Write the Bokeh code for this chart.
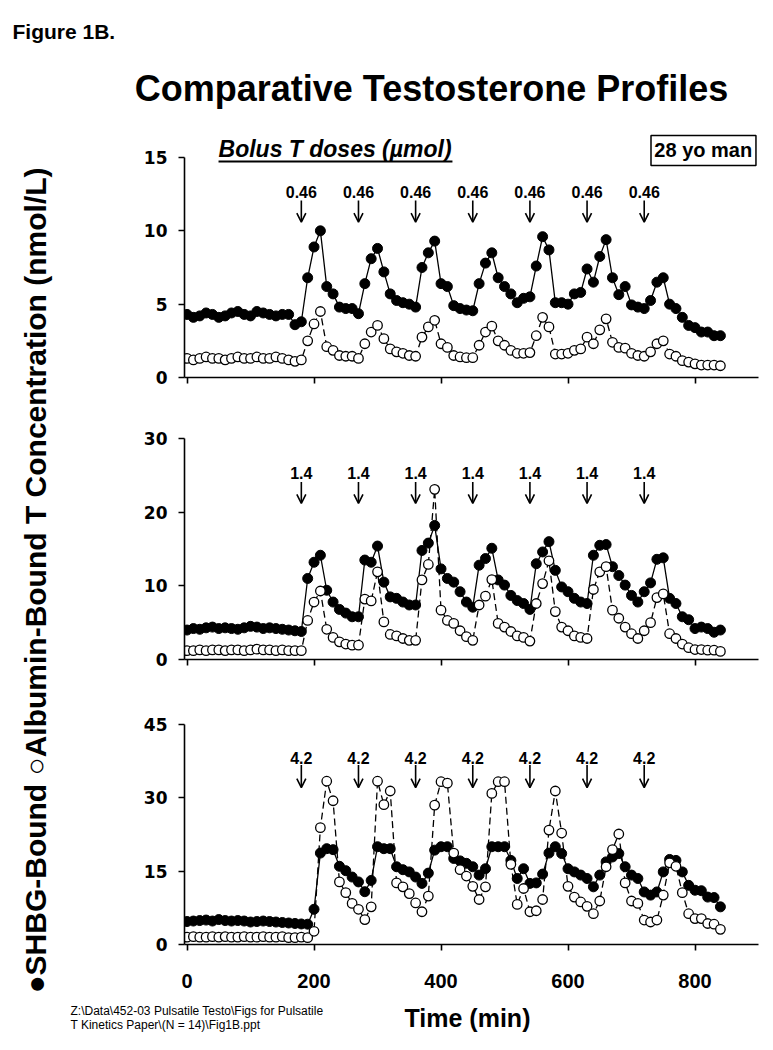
from bokeh.plotting import figure
from bokeh.models import Range1d, FixedTicker, Arrow, OpenHead, ColumnDataSource
from bokeh.layouts import column, row
from bokeh.embed import file_html
from bokeh.resources import INLINE
from bokeh.core.properties import value

# ---------------- data ----------------
time_min = list(range(0, 850, 10))
dose_times = [180, 270, 360, 450, 540, 630, 720]

# panel 1: 0.46 umol boluses
shbg_046 = [4.3, 4.1, 4.2, 4.4, 4.3, 4.1, 4.2, 4.4, 4.5, 4.3, 4.2, 4.5, 4.4, 4.3, 4.2, 4.3, 4.3, 3.6, 3.8,
            6.8, 8.9, 10.0, 6.2, 5.7, 4.8, 4.7, 4.7, 4.35,
            6.4, 8.1, 8.8, 7.2, 5.7, 5.25, 5.1, 5.0, 4.8,
            7.5, 8.5, 9.3, 6.4, 6.2, 4.9, 4.7, 4.6, 4.55,
            6.4, 7.8, 8.5, 6.8, 6.2, 5.7, 5.1, 5.4, 5.5,
            7.6, 9.6, 8.7, 5.1, 5.1, 5.0, 5.7, 5.8,
            7.4, 6.5, 8.25, 9.4, 6.8, 5.65, 6.2, 4.95, 4.8, 4.7,
            5.25, 6.5, 6.8, 5.0, 4.7, 4.1, 3.55, 3.4, 3.1, 3.1, 2.85, 2.85]
alb_046 = [1.3, 1.2, 1.3, 1.4, 1.3, 1.3, 1.2, 1.3, 1.4, 1.3, 1.3, 1.4, 1.3, 1.3, 1.4, 1.3, 1.2, 1.1, 1.2,
           2.5, 3.65, 4.5, 2.1, 1.85, 1.5, 1.45, 1.45, 1.3,
           2.3, 3.1, 3.55, 2.65, 1.95, 1.75, 1.65, 1.5, 1.45,
           2.75, 3.45, 3.9, 2.3, 2.05, 1.5, 1.4, 1.35, 1.35,
           2.2, 3.1, 3.5, 2.5, 2.2, 1.85, 1.65, 1.65, 1.7,
           2.85, 4.1, 3.45, 1.6, 1.6, 1.65, 1.85, 1.95,
           2.75, 2.3, 3.25, 4.0, 2.4, 2.05, 2.0, 1.65, 1.5, 1.45,
           1.75, 2.3, 2.5, 1.6, 1.45, 1.15, 1.05, 0.93, 0.85, 0.85, 0.85, 0.8]

# panel 2: 1.4 umol boluses
shbg_14 = [4.0, 4.2, 4.1, 4.3, 4.4, 4.2, 4.3, 4.2, 4.1, 4.3, 4.5, 4.4, 4.2, 4.3, 4.2, 4.1, 4.0, 3.9, 3.8,
           11.0, 13.2, 14.15, 9.4, 7.8, 6.8, 6.3, 5.8, 5.8,
           13.5, 13.2, 15.4, 10.5, 8.5, 8.3, 7.8, 7.4, 7.4,
           14.8, 15.8, 18.2, 12.3, 11.0, 10.5, 9.2, 7.8, 7.1,
           12.8, 13.7, 15.1, 10.8, 10.1, 8.7, 8.0, 7.6, 6.8,
           13.0, 14.6, 16.0, 12.1, 9.85, 9.2, 8.3, 7.8, 7.6,
           14.15, 15.5, 15.6, 12.6, 11.4, 10.1, 8.7, 7.8,
           9.2, 10.4, 13.6, 13.8, 8.3, 7.6, 5.8, 5.4, 4.2, 4.4, 4.2, 3.7, 4.0]
alb_14 = [1.2, 1.2, 1.3, 1.2, 1.3, 1.3, 1.2, 1.3, 1.3, 1.2, 1.3, 1.4, 1.3, 1.3, 1.2, 1.3, 1.2, 1.2, 1.2,
          5.3, 7.8, 9.3, 4.1, 3.0, 2.4, 2.1, 1.95, 1.95,
          8.2, 7.95, 11.9, 5.1, 3.4, 3.2, 2.85, 2.6, 2.6,
          10.8, 12.9, 23.1, 6.7, 5.3, 4.9, 3.9, 3.1, 2.6,
          7.4, 8.6, 10.85, 4.9, 4.4, 3.8, 3.2, 3.0, 2.5,
          7.6, 10.3, 13.4, 6.5, 4.4, 3.9, 3.2, 3.0, 2.85,
          9.5, 11.9, 12.6, 6.7, 5.6, 4.4, 3.5, 2.85,
          3.9, 5.0, 8.4, 8.9, 3.5, 2.85, 2.1, 1.6, 1.35, 1.35, 1.26, 1.26, 1.1]

# panel 3: 4.2 umol boluses
shbg_42 = [4.7, 4.8, 4.9, 5.0, 4.8, 5.1, 4.9, 4.8, 4.9, 4.8, 4.6, 4.7, 4.8, 4.7, 4.6, 4.5, 4.4, 4.3, 4.2, 4.15,
           7.2, 18.7, 19.6, 19.4, 16.0, 15.1, 13.8, 12.8, 10.8,
           13.1, 20.0, 19.6, 19.6, 15.9, 15.3, 14.85, 13.8, 12.5,
           14.6, 19.3, 20.0, 20.0, 17.6, 17.1, 16.6, 15.9, 14.2,
           15.5, 20.0, 20.0, 20.0, 17.2, 13.5, 15.5, 12.5, 12.6,
           14.4, 18.7, 20.0, 18.6, 15.5, 14.85, 14.2, 13.5, 11.8,
           14.2, 16.9, 17.9, 18.6, 15.9, 14.2, 13.5, 10.75, 10.1,
           10.75, 14.85, 17.4, 17.2, 14.85, 12.1, 11.1, 11.0, 9.7, 9.6, 7.7]
alb_42 = [1.5, 1.6, 1.5, 1.5, 1.6, 1.5, 1.6, 1.5, 1.5, 1.6, 1.5, 1.5, 1.6, 1.5, 1.5, 1.6, 1.4, 1.4, 1.5, 1.4,
          2.7, 23.9, 33.4, 29.4, 12.8, 10.6, 8.4, 7.2, 5.1,
          7.7, 33.4, 28.6, 31.4, 12.6, 11.8, 10.4, 8.5, 6.7,
          9.9, 28.5, 33.3, 33.0, 18.7, 15.3, 14.0, 11.9, 9.2,
          11.8, 30.9, 33.3, 33.3, 16.4, 8.2, 11.45, 6.7, 6.9,
          9.2, 23.4, 31.4, 22.8, 11.9, 9.7, 8.7, 7.8, 6.3,
          8.9, 15.9, 19.4, 22.6, 12.6, 8.9, 8.4, 5.0, 4.6,
          5.0, 10.1, 16.7, 16.0, 10.6, 6.3, 5.3, 5.3, 4.3, 4.15, 3.1]

for arr in (shbg_046, alb_046, shbg_14, alb_14, shbg_42, alb_42):
    assert len(arr) == len(time_min), len(arr)

x_ticks = [0, 200, 400, 600, 800]
y_ticks_1 = [0, 5, 10, 15]
y_ticks_2 = [0, 10, 20, 30]
y_ticks_3 = [0, 15, 30, 45]
dose_1 = "0.46"
dose_2 = "1.4"
dose_3 = "4.2"

# ---------------- layout constants ----------------
FONT = "Liberation Sans"
PANEL_W = 705
LEFT_B = 124
RIGHT_B = 7
X0, X1 = -4, 900


def blank(w, h, xr, yr):
    f = figure(width=w, height=h, x_range=xr, y_range=yr, output_backend="svg",
               toolbar_location=None, x_axis_type=None, y_axis_type=None,
               min_border=0, min_border_left=0, min_border_right=0,
               min_border_top=0, min_border_bottom=0)
    f.outline_line_color = None
    f.xgrid.visible = False
    f.ygrid.visible = False
    return f


def panel(frame_h, bottom_b, ytop, yaxis_max, yticks, shbg, alb, dose_lbl,
          lbl_y, arr_top, arr_tip, show_labels):
    p = figure(width=PANEL_W, height=frame_h + bottom_b,
               x_range=Range1d(X0, X1), y_range=Range1d(0, ytop),
               output_backend="svg", toolbar_location=None,
               min_border_left=LEFT_B, min_border_right=RIGHT_B,
               min_border_top=0, min_border_bottom=bottom_b)
    p.outline_line_color = None
    p.xgrid.visible = False
    p.ygrid.visible = False

    # y axis
    ya = p.yaxis[0]
    ya.bounds = (0, yaxis_max)
    ya.ticker = FixedTicker(ticks=yticks)
    ya.axis_line_width = 1.6
    ya.major_tick_line_width = 1.6
    ya.major_tick_out = 6
    ya.major_tick_in = 0
    ya.minor_tick_out = 0
    ya.minor_tick_in = 0
    ya.major_label_text_font = "DejaVu Sans"
    ya.major_label_text_font_style = "bold"
    ya.major_label_text_font_size = "17px"
    ya.major_label_standoff = 11
    ya.major_label_text_color = "black"

    # x axis
    xa = p.xaxis[0]
    xa.bounds = (X0, X1)
    xa.axis_line_width = 1.6
    xa.major_tick_line_width = 1.6
    xa.minor_tick_line_width = 1.6
    xa.major_tick_in = 0
    xa.minor_tick_in = 0
    if show_labels:
        xa.ticker = FixedTicker(ticks=x_ticks)
        xa.major_tick_out = 6
        xa.minor_tick_out = 0
        xa.major_label_text_font = FONT
        xa.major_label_text_font_style = "bold"
        xa.major_label_text_font_size = "20px"
        xa.major_label_standoff = 23
        xa.major_label_text_color = "black"
    else:
        # unlabeled tick marks only
        xa.ticker = FixedTicker(ticks=[], minor_ticks=x_ticks)
        xa.major_tick_out = 0
        xa.minor_tick_out = 6
        xa.major_label_standoff = 0

    # series
    p.line(time_min, alb, line_color="black", line_width=1.3, line_dash="7 4")
    p.line(time_min, shbg, line_color="black", line_width=1.3)
    p.scatter(time_min, shbg, size=10, fill_color="black", line_color="black")
    p.scatter(time_min, alb, size=9.5, fill_color="white", line_color="black",
              line_width=1.3)

    # dose arrows and labels
    src = ColumnDataSource(dict(x=dose_times, y0=[arr_top] * len(dose_times),
                                y1=[arr_tip] * len(dose_times)))
    p.add_layout(Arrow(source=src, x_start="x", y_start="y0", x_end="x", y_end="y1",
                       line_width=1.6, line_color="black",
                       end=OpenHead(size=9, line_width=1.6, line_color="black")))
    p.text(dose_times, [lbl_y] * len(dose_times), text=[dose_lbl] * len(dose_times),
           text_font=value(FONT), text_font_style="bold", text_font_size="16px",
           text_align="center", text_baseline="middle", text_color="black")
    return p


# panel 1: frame 257 px tall, 14.667 px per unit
p1 = panel(257, 10, 257 / 14.667, 15, y_ticks_1, shbg_046, alb_046, dose_1,
           12.68, 12.07, 10.6, False)
# panel 2: frame 272 px tall, 7.367 px per unit
p2 = panel(272, 10, 272 / 7.367, 30, y_ticks_2, shbg_14, alb_14, dose_2,
           25.36, 24.1, 21.2, False)
# panel 3: frame 275 px tall, 4.889 px per unit
p3 = panel(275, 58, 275 / 4.889, 45, y_ticks_3, shbg_42, alb_42, dose_3,
           38.2, 36.7, 32.1, True)

# annotations in panel 1
p1.text([49.6], [15.61], text=["Bolus T doses (\u00b5mol)"], text_font=value(FONT),
        text_font_style="bold italic", text_font_size="23px", text_align="left",
        text_baseline="middle", text_color="black")
p1.segment(x0=[49.6], y0=[14.73], x1=[418], y1=[14.73], line_color="black", line_width=2)
p1.quad(left=[730.7], right=[896], bottom=[14.45], top=[16.5], fill_color="white",
        line_color="black", line_width=1.5)
p1.text([813], [15.48], text=["28 yo man"], text_font=value(FONT), text_font_style="bold",
        text_font_size="20px", text_align="center", text_baseline="middle",
        text_color="black")

# header (page y 0..120)
hdr = blank(765, 120, Range1d(0, 765), Range1d(120, 0))
hdr.text([12], [31], text=["Figure 1B."], text_font=value(FONT), text_font_style="bold",
         text_font_size="21px", text_align="left", text_baseline="middle", text_color="black")
hdr.text([431], [88], text=["Comparative Testosterone Profiles"], text_font=value(FONT),
         text_font_style="bold", text_font_size="36px", text_align="center",
         text_baseline="middle", text_color="black")

# left rotated label (page x 0..60, page y 120..1002)
lab = blank(60, 882, Range1d(0, 60), Range1d(0, 882))
lab.text([35], [882 - (580 - 120)],
         text=["\u25cfSHBG-Bound \u25cbAlbumin-Bound T Concentration (nmol/L)"],
         text_font=value(FONT), text_font_style="bold", text_font_size="30px",
         text_align="center", text_baseline="middle", angle=1.5708, text_color="black")

# footer (page y 1002..1042)
ftr = blank(765, 40, Range1d(0, 765), Range1d(40, 0))
ftr.text([467], [15], text=["Time (min)"], text_font=value(FONT), text_font_style="bold",
         text_font_size="25px", text_align="center", text_baseline="middle", text_color="black")
ftr.text([70, 70], [8, 22], text=["Z:\\Data\\452-03 Pulsatile Testo\\Figs for Pulsatile",
                                  "T Kinetics Paper\\(N = 14)\\Fig1B.ppt"],
         text_font=value(FONT), text_font_size="12px", text_align="left",
         text_baseline="middle", text_color="black")

layout = column(hdr, row(lab, column(p1, p2, p3, spacing=0), spacing=0), ftr, spacing=0)

open("out.html", "w").write(file_html(layout, INLINE))
